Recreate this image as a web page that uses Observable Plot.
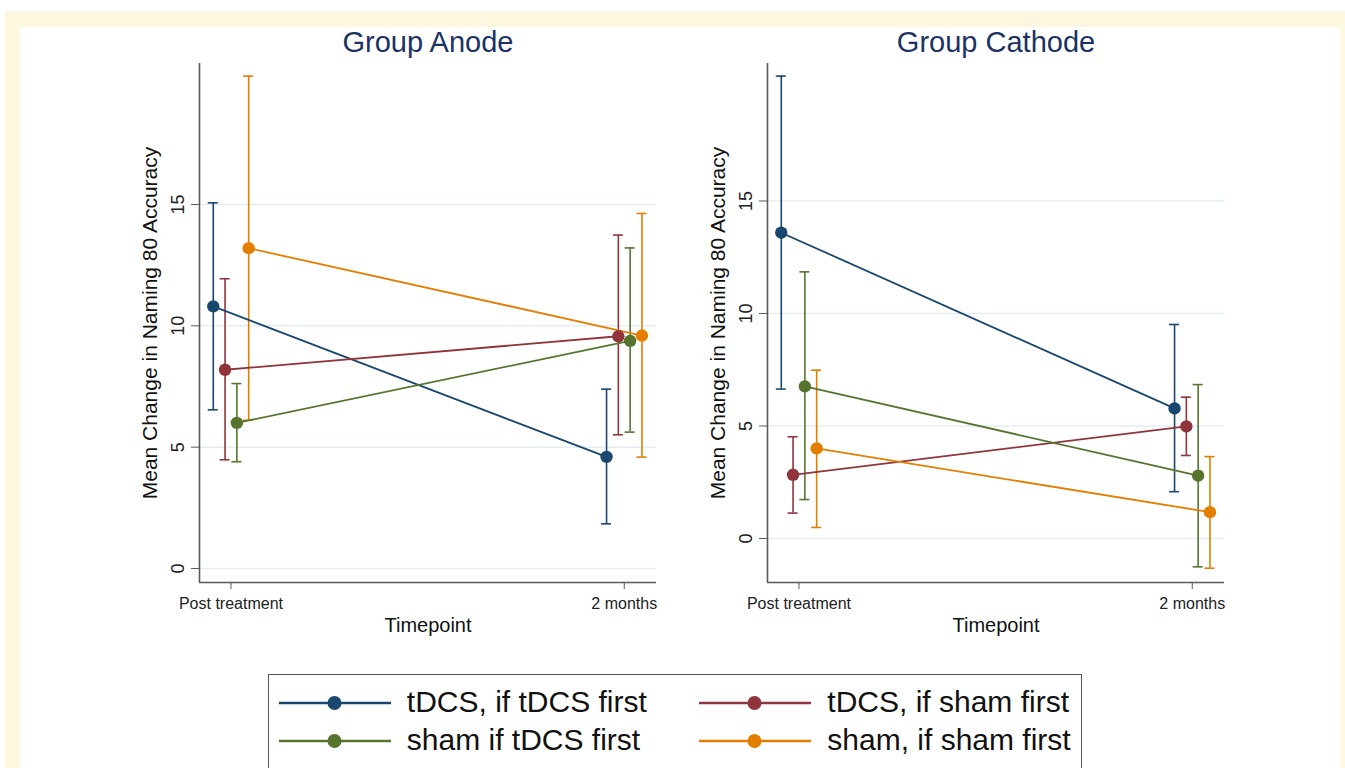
<!DOCTYPE html>
<html>
<head>
<meta charset="utf-8">
<script src="https://cdn.jsdelivr.net/npm/d3@7"></script>
<script src="https://cdn.jsdelivr.net/npm/@observablehq/plot@0.6"></script>
<style>
  body { margin: 0; background: #fff; font-family: "Liberation Sans", Arial, sans-serif; }
  #page { position: relative; width: 1345px; height: 768px; overflow: hidden; background: #fff; }
  #cream { position: absolute; left: 5px; top: 11px; width: 1340px; height: 757px; background: #fdf7df; }
  #inner { position: absolute; left: 20px; top: 27px; width: 1320px; height: 741px; background: #fff; }
  .panel { position: absolute; top: 0; }
  .title { position: absolute; top: 28px; width: 460px; text-align: center; font-size: 29px; line-height: 28px; color: #1c3264; }
  #legend { position: absolute; left: 268px; top: 674px; width: 814px; height: 120px; border: 1.5px solid #555; box-sizing: border-box; background: #fff; }
  .lg-text { position: absolute; font-size: 30px; line-height: 30px; color: #111; white-space: nowrap; }
  .lg-sw { position: absolute; }
</style>
</head>
<body>
<div id="page">
  <div id="cream"></div>
  <div id="inner"></div>
  <div id="panels"></div>
  <div id="legend"></div>
</div>
<script>
// ---------- data ----------
const timepoints = ["Post treatment", "2 months"];
const series = ["tDCS, if tDCS first", "tDCS, if sham first", "sham if tDCS first", "sham, if sham first"];
const colors = ["#1a476f", "#90353b", "#55752f", "#e37e00"];
const yTicks = [0, 5, 10, 15];
const panelTitles = ["Group Anode", "Group Cathode"];
const yLabel = "Mean Change in Naming 80 Accuracy";
const xLabel = "Timepoint";

// Group Anode: per series [Post treatment, 2 months]
const anodeMean = [[10.80, 4.60], [8.19, 9.57], [6.00, 9.38], [13.20, 9.60]];
const anodeLow  = [[6.54, 1.84], [4.48, 5.51], [4.40, 5.62], [6.11, 4.59]];
const anodeHigh = [[15.07, 7.39], [11.94, 13.74], [7.62, 13.21], [20.29, 14.63]];

// Group Cathode
const cathodeMean = [[13.59, 5.78], [2.83, 4.98], [6.76, 2.79], [4.00, 1.17]];
const cathodeLow  = [[6.64, 2.08], [1.13, 3.69], [1.73, -1.26], [0.49, -1.32]];
const cathodeHigh = [[20.55, 9.51], [4.52, 6.28], [11.85, 6.84], [7.48, 3.64]];

// ---------- layout ----------
const dodge = [-0.045, -0.015, 0.015, 0.045];
const capHalf = 0.0127;
const xDomain = [-0.08, 1.082];
const panels = [
  {title: panelTitles[0], mean: anodeMean, low: anodeLow, high: anodeHigh, yDomain: [-0.577, 20.81], left: 99, titleLeft: 198},
  {title: panelTitles[1], mean: cathodeMean, low: cathodeLow, high: cathodeHigh, yDomain: [-1.956, 21.11], left: 667, titleLeft: 766}
];

function rows(mean, low, high) {
  const out = [];
  series.forEach((s, i) => timepoints.forEach((t, j) => {
    out.push({series: s, x: j + dodge[i], mean: mean[i][j], low: low[i][j], high: high[i][j]});
  }));
  return out;
}

const container = document.getElementById("panels");
panels.forEach(p => {
  const data = rows(p.mean, p.low, p.high);
  const chart = Plot.plot({
    width: 570,
    height: 650,
    marginLeft: 100,
    marginRight: 13,
    marginTop: 63,
    marginBottom: 68,
    style: {background: "transparent", fontFamily: "'Liberation Sans', Arial, sans-serif", color: "#222"},
    x: {type: "linear", domain: xDomain, axis: null},
    y: {domain: p.yDomain, axis: null},
    color: {domain: series, range: colors},
    marks: [
      Plot.ruleY(yTicks, {stroke: "#e4eef1", strokeWidth: 1.5}),
      Plot.ruleX([xDomain[0]], {stroke: "#5a5a5a", strokeWidth: 1.6}),
      Plot.ruleY([p.yDomain[0]], {stroke: "#5a5a5a", strokeWidth: 1.6}),
      Plot.axisY({ticks: yTicks, tickRotate: -90, tickSize: 8, tickPadding: 8, fontSize: 18, stroke: "#5a5a5a", fill: "#222", label: null}),
      Plot.axisX({ticks: [0, 1], tickFormat: i => timepoints[i], tickSize: 7, tickPadding: 8, fontSize: 16, stroke: "#5a5a5a", fill: "#222", label: null}),
      Plot.text([yLabel], {text: d => d, frameAnchor: "left", dx: -49, rotate: -90, fontSize: 21, textAnchor: "middle", lineAnchor: "middle", fill: "#111"}),
      Plot.text([xLabel], {text: d => d, frameAnchor: "bottom", dy: 35, fontSize: 20, textAnchor: "middle", lineAnchor: "top", fill: "#111"}),
      Plot.ruleX(data, {x: "x", y1: "low", y2: "high", stroke: "series", strokeWidth: 1.6}),
      Plot.ruleY(data, {y: "high", x1: d => d.x - capHalf, x2: d => d.x + capHalf, stroke: "series", strokeWidth: 1.6}),
      Plot.ruleY(data, {y: "low", x1: d => d.x - capHalf, x2: d => d.x + capHalf, stroke: "series", strokeWidth: 1.6}),
      Plot.line(data, {x: "x", y: "mean", z: "series", stroke: "series", strokeWidth: 1.8}),
      Plot.dot(data, {x: "x", y: "mean", fill: "series", r: 6.2})
    ]
  });
  chart.classList.add("panel");
  chart.style.left = p.left + "px";
  chart.style.position = "absolute";
  chart.style.top = "0px";
  container.appendChild(chart);

  const t = document.createElement("div");
  t.className = "title";
  t.style.left = p.titleLeft + "px";
  t.textContent = p.title;
  container.appendChild(t);
});

// ---------- legend ----------
const legend = document.getElementById("legend");
const colSw = [9.5, 429.5], colTx = [137.8, 558.3];
const rowSw = [17.8, 55.5], rowTx = [12.1, 50.1];
series.forEach((s, i) => {
  const c = i % 2, r = Math.floor(i / 2);
  const svg = d3.create("svg").attr("class", "lg-sw").attr("width", 112).attr("height", 20)
    .style("left", colSw[c] + "px").style("top", rowSw[r] + "px");
  svg.append("line").attr("x1", 0).attr("x2", 112).attr("y1", 10).attr("y2", 10)
    .attr("stroke", colors[i]).attr("stroke-width", 2.6);
  svg.append("circle").attr("cx", 55.5).attr("cy", 10).attr("r", 7).attr("fill", colors[i]);
  legend.appendChild(svg.node());
  const tx = document.createElement("div");
  tx.className = "lg-text";
  tx.style.left = colTx[c] + "px";
  tx.style.top = rowTx[r] + "px";
  tx.textContent = s;
  legend.appendChild(tx);
});
</script>
</body>
</html>
